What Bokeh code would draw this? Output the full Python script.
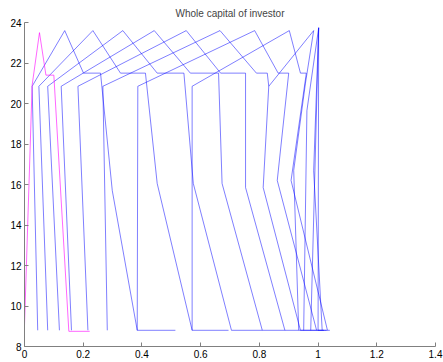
from bokeh.plotting import figure
from bokeh.models import Range1d, FixedTicker
from bokeh.embed import file_html
from bokeh.resources import INLINE

# Tick positions and labels
x_ticks = [0, 0.2, 0.4, 0.6, 0.8, 1.0, 1.2, 1.4]
x_tick_labels = ["0", "0.2", "0.4", "0.6", "0.8", "1", "1.2", "1.4"]
y_ticks = [8, 10, 12, 14, 16, 18, 20, 22, 24]
y_tick_labels = ["8", "10", "12", "14", "16", "18", "20", "22", "24"]

# First investor path (magenta)
path_m_x = [0.0, 0.026, 0.051, 0.073, 0.100, 0.151, 0.222]
path_m_y = [9.05, 20.9, 23.5, 21.4, 21.4, 8.75, 8.75]

# Remaining investor paths (blue)
path_1_x = [0.045, 0.026, 0.137, 0.201, 0.259, 0.299, 0.384, 0.514]
path_1_y = [8.8, 20.85, 23.6, 21.5, 21.5, 15.7, 8.8, 8.8]
path_2_x = [0.079, 0.049, 0.233, 0.327, 0.412, 0.452, 0.571, 0.695]
path_2_y = [8.8, 20.85, 23.6, 21.5, 21.5, 16.05, 8.8, 8.8]
path_3_x = [0.119, 0.079, 0.335, 0.452, 0.543, 0.575, 0.705, 0.810]
path_3_y = [8.8, 20.85, 23.6, 21.5, 21.5, 16.05, 8.8, 8.8]
path_4_x = [0.160, 0.125, 0.442, 0.565, 0.661, 0.673, 0.810, 0.887]
path_4_y = [8.8, 20.85, 23.6, 21.5, 21.5, 16.05, 8.8, 8.8]
path_5_x = [0.216, 0.182, 0.551, 0.668, 0.753, 0.753, 0.887, 0.934]
path_5_y = [8.8, 20.85, 23.6, 21.5, 21.5, 15.85, 8.8, 8.8]
path_6_x = [0.282, 0.267, 0.666, 0.790, 0.827, 0.832, 0.813, 0.940, 0.995]
path_6_y = [8.8, 20.85, 23.6, 21.5, 21.5, 20.85, 15.85, 8.8, 8.8]
path_7_x = [0.384, 0.386, 0.784, 0.864, 0.900, 0.861, 0.995, 1.032]
path_7_y = [8.8, 20.85, 23.6, 21.5, 21.5, 16.2, 8.8, 8.8]
path_8_x = [0.571, 0.571, 0.902, 0.940, 0.960, 0.908, 1.032, 1.040]
path_8_y = [8.8, 20.85, 23.6, 21.5, 21.5, 16.2, 8.8, 8.8]
path_9_x = [0.832, 0.985, 0.957, 0.917, 0.934, 1.014]
path_9_y = [20.85, 23.6, 21.0, 16.7, 8.8, 8.8]
path_10_x = [0.951, 0.962, 1.002, 0.985, 1.014, 1.029]
path_10_y = [8.8, 19.65, 23.74, 16.68, 8.8, 8.8]
path_11_x = [0.975, 1.002, 1.0, 1.02]
path_11_y = [8.8, 23.74, 8.8, 8.8]

blue_paths = [
    (path_1_x, path_1_y), (path_2_x, path_2_y), (path_3_x, path_3_y),
    (path_4_x, path_4_y), (path_5_x, path_5_y), (path_6_x, path_6_y),
    (path_7_x, path_7_y), (path_8_x, path_8_y), (path_9_x, path_9_y),
    (path_10_x, path_10_y), (path_11_x, path_11_y),
]

p = figure(width=443, height=362, output_backend="svg", toolbar_location=None,
           x_range=Range1d(0, 1.4), y_range=Range1d(8, 24),
           min_border_left=24, min_border_right=8, min_border_top=22, min_border_bottom=16,
           title="Whole capital of investor")

p.title.align = "center"
p.title.text_font = "Liberation Sans"
p.title.text_font_size = "10px"
p.title.text_font_style = "normal"
p.title.standoff = 7

p.outline_line_color = None
p.grid.visible = False
p.background_fill_color = "white"
p.border_fill_color = "white"

for ax, ticks, labels in ((p.xaxis[0], x_ticks, x_tick_labels), (p.yaxis[0], y_ticks, y_tick_labels)):
    ax.ticker = FixedTicker(ticks=ticks)
    ax.major_label_overrides = {t: l for t, l in zip(ticks, labels)}
    ax.major_tick_in = 4
    ax.major_tick_out = 0
    ax.minor_tick_in = 0
    ax.minor_tick_out = 0
    ax.axis_line_color = "#808080"
    ax.major_tick_line_color = "#808080"
    ax.major_label_text_font = "Liberation Sans"
    ax.major_label_text_font_size = "10px"
    ax.major_label_text_color = "black"
    ax.major_label_standoff = 3

for xs, ys in blue_paths:
    p.line(xs, ys, line_color="blue", line_alpha=0.5, line_width=1)

p.line(path_m_x, path_m_y, line_color="#ff00ff", line_alpha=0.6, line_width=1)

open("out.html", "w").write(file_html(p, INLINE))
